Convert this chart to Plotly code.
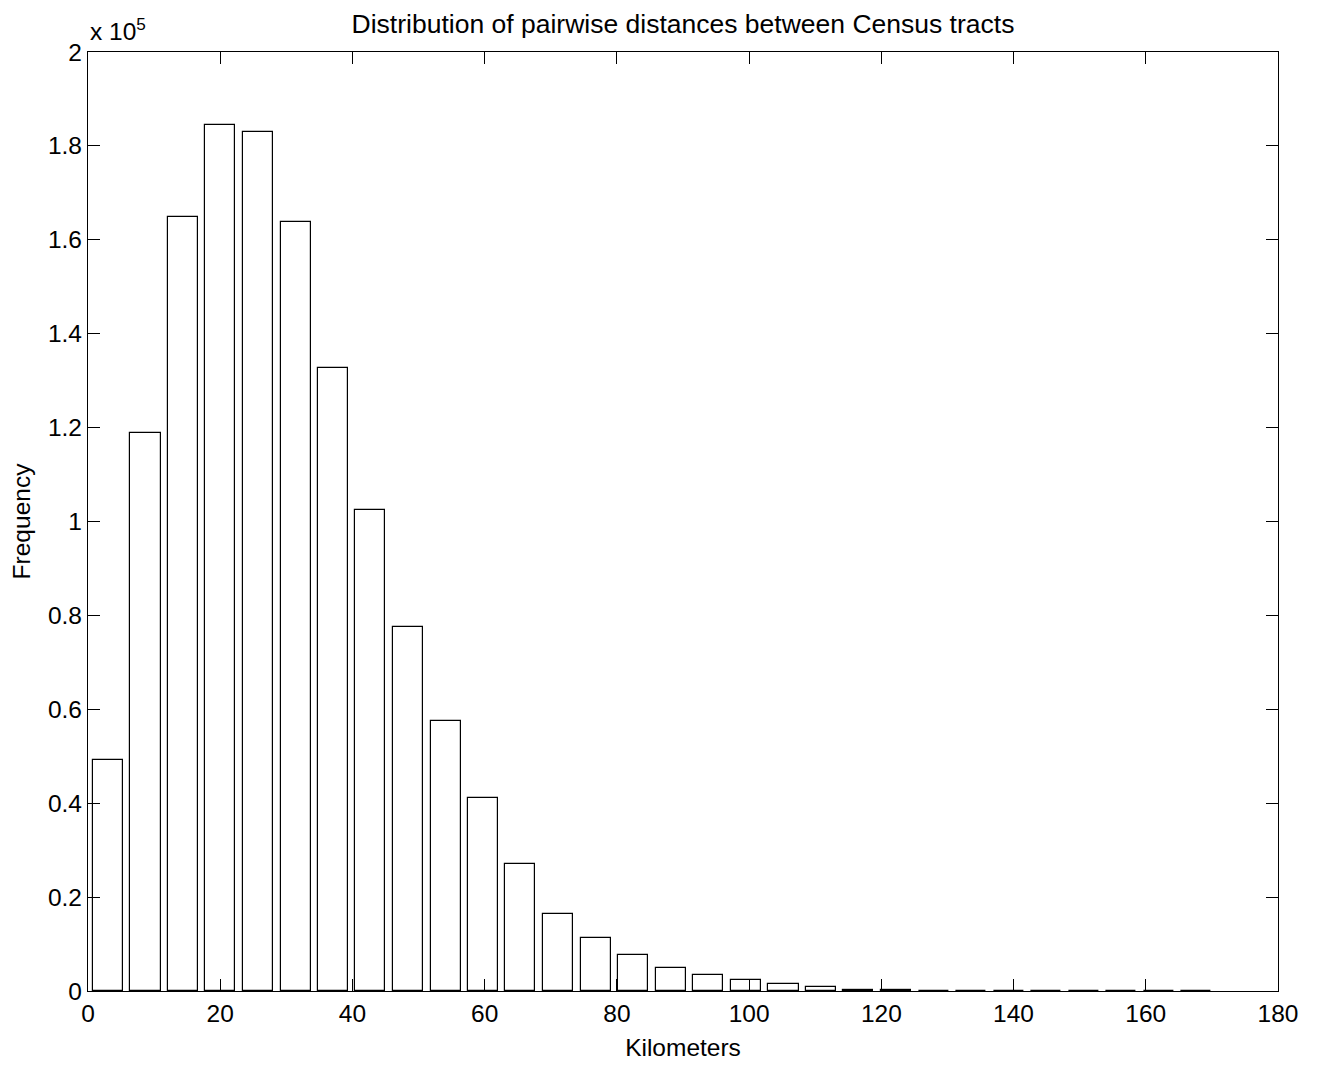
import plotly.graph_objects as go

# Bin centers (km) and counts
bin_centers = [3.0, 8.7, 14.4, 20.0, 25.7, 31.4, 37.1, 42.7, 48.4, 54.1,
               59.8, 65.4, 71.1, 76.8, 82.5, 88.2, 93.8, 99.5, 105.2, 110.9,
               116.5, 122.2, 127.9, 133.6, 139.3, 144.9, 150.6, 156.3, 162.0, 167.6]
counts = [49300, 118900, 164800, 184500, 183000, 163800, 132600, 102500, 77500, 57600,
          41100, 27000, 16500, 11300, 7700, 4950, 3450, 2300, 1450, 750,
          300, 150, 80, 50, 30, 20, 10, 10, 5, 3]

y_tick_vals = [0, 20000, 40000, 60000, 80000, 100000, 120000, 140000, 160000, 180000, 200000]
y_tick_text = ["0", "0.2", "0.4", "0.6", "0.8", "1", "1.2", "1.4", "1.6", "1.8", "2"]
x_tick_vals = [0, 20, 40, 60, 80, 100, 120, 140, 160, 180]

FONT = "Liberation Sans, Arial, sans-serif"
FS = 24.5

fig = go.Figure()
fig.add_trace(go.Bar(
    x=bin_centers, y=counts, width=4.55,
    marker=dict(color="white", line=dict(color="black", width=1.2)),
    showlegend=False,
))

fig.update_layout(
    width=1317, height=1065,
    paper_bgcolor="white", plot_bgcolor="white",
    margin=dict(l=80, r=47, t=44, b=82),
    font=dict(family=FONT, size=FS, color="black"),
    title=dict(text="Distribution of pairwise distances between Census tracts",
               x=0.5, xanchor="center", xref="paper", y=1 - 16 / 1065, yanchor="middle",
               font=dict(family=FONT, size=26.5, color="black")),
    bargap=0,
)
fig.update_xaxes(
    range=[0, 180], tickvals=x_tick_vals,
    showline=True, linecolor="black", linewidth=1.3, mirror="ticks",
    ticks="inside", ticklen=12, tickwidth=1.2, tickcolor="black",
    showgrid=False, zeroline=False,
    tickfont=dict(family=FONT, size=FS),
    title=dict(text="Kilometers", font=dict(family=FONT, size=FS), standoff=13),
)
fig.update_yaxes(
    range=[0, 200000], tickvals=y_tick_vals, ticktext=y_tick_text,
    showline=True, linecolor="black", linewidth=1.3, mirror="ticks",
    ticks="inside", ticklen=12, tickwidth=1.2, tickcolor="black",
    showgrid=False, zeroline=False,
    tickfont=dict(family=FONT, size=FS),
    title=dict(text="Frequency", font=dict(family=FONT, size=FS), standoff=12),
)
fig.add_annotation(
    text="x 10<sup>5</sup>", xref="paper", yref="paper", x=0, y=1,
    xanchor="left", yanchor="bottom", showarrow=False, yshift=5,
    font=dict(family=FONT, size=FS, color="black"),
)

fig.write_html("out.html")
